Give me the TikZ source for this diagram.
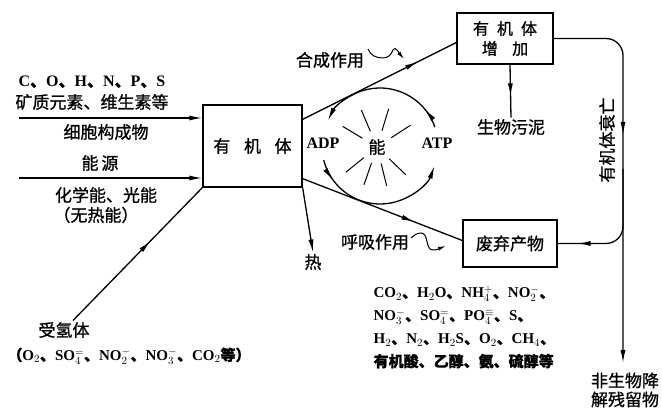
\documentclass[tikz,border=0pt]{standalone}
\usepackage{fontspec}
\setmainfont{Liberation Serif}
\newfontfamily\cjk{Noto Sans CJK SC}[FakeBold=1]
\usetikzlibrary{arrows.meta, decorations.markings}
\newcommand\dn{{\cjk 、}}

\begin{document}
\begin{tikzpicture}[
    x=1pt, y=1pt,
    line width=1.3pt,
    >={Latex[length=13pt, width=5pt]},
    box/.style={draw, rectangle, align=center, font=\cjk\fontsize{17}{22}\selectfont},
    txt/.style={align=center, inner sep=1pt, font=\cjk\fontsize{17}{19}\selectfont},
    latin/.style={inner sep=1pt, font=\bfseries\fontsize{16}{19}\selectfont},
    chem/.style={align=left, inner sep=0pt, font=\bfseries\fontsize{15}{23}\selectfont},
    midarrow/.style={postaction={decorate}, decoration={markings, mark=at position #1 with {\arrow{>}}}},
    midarrow/.default=0.6
]
    \useasboundingbox (0,0) rectangle (662,409);

    % Boxes
    \node[box, minimum width=99pt, minimum height=82pt] (org) at (252.5,263) {有\hspace{0.8em}机\hspace{0.8em}体};
    \node[box, minimum width=96pt, minimum height=51pt, font=\cjk\fontsize{16}{20}\selectfont] (grow) at (505,370.5) {有\hspace{0.5em}机\hspace{0.5em}体\\增\hspace{0.9em}加};
    \node[box, minimum width=94pt, minimum height=47pt] (waste) at (510,165.5) {废弃产物};

    % Inputs
    \node[latin] (elem) at (92,327) {C\dn O\dn H\dn N\dn P\dn S};
    \node[txt] (mineral) at (92,307) {矿质元素、维生素等};
    \node[txt] (cell) at (106,277) {细胞构成物};
    \node[txt] (source) at (100,246) {能\,源};
    \node[txt] (chemlight) at (106,214) {化学能、光能};
    \node[txt] (noheat) at (96,194) {（无热能）};
    \coordinate (in1) at (19,291);
    \coordinate (in2) at (19,231);
    \draw[->] (in1) -- (org.west |- in1);
    \draw[->] (in2) -- (org.west |- in2);

    % Hydrogen acceptor
    \node[txt] (acceptor) at (64,79) {受氢体};
    \node[latin, font=\bfseries\fontsize{15}{18}\selectfont] (accepts) at (129,53)
        {{\cjk （}O$_2$\dn SO$_4^{=}$\dn NO$_2^{-}$\dn NO$_3^{-}$\dn CO$_2${\cjk 等）}};
    \draw[midarrow=0.6] ([xshift=9pt]acceptor.north) -- (org.south west);

    % Heat
    \node[txt] (heat) at (313,147) {热};
    \draw[->] (org.south east) -- (heat.north);

    % Synthesis and respiration
    \draw[midarrow=0.75] ([yshift=-15pt]org.north east) -- ([yshift=-4pt]grow.west);
    \draw[midarrow=0.7] ([yshift=9pt]org.south east) -- ([yshift=3pt]waste.west);
    \node[txt] (synth) at (330,349) {合成作用};
    \node[txt] (resp) at (375,167) {呼吸作用};
    \draw[->, line width=1pt, >={Latex[length=8pt, width=4pt]}] (368,360) to[out=-70,in=180] (383,351) to[out=0,in=-110] (393,359) to[out=70,in=130] (404,350);
    \draw[->, line width=1pt, >={Latex[length=8pt, width=4pt]}] (411,171) to[out=40,in=180] (421,176) to[out=0,in=180] (433,159) to[out=0,in=200] (446,163);

    % Energy cycle
    \coordinate (cyc) at (380,263);
    \node[txt] (energy) at (377,262) {能};
    \node[latin] (adp) at (323,266) {ADP};
    \node[latin] (atp) at (437,266) {ATP};
    \draw[->, midarrow=0.15] (cyc) ++(19:58pt) arc[start angle=19, end angle=154, radius=58pt];
    \draw[->, midarrow=0.15] (cyc) ++(194:58pt) arc[start angle=194, end angle=340, radius=58pt];
    \foreach \a in {33,73,113,149,219,251,284,316}
        \draw[line width=1pt] (energy.center) ++(\a:17pt) -- ++(\a:23pt);

    % Sludge
    \node[txt] (sludge) at (511,282) {生物污泥};
    \draw[midarrow=0.6] ([xshift=5pt]grow.south) -- (sludge.north);

    % Decay
    \coordinate (bottom) at (623,46);
    \coordinate (fork) at (623,240);
    \draw[->, rounded corners=17pt, midarrow=0.41] (grow.east) -| (bottom);
    \draw[rounded corners=17pt, midarrow=0.85] (fork) |- (waste.east);
    \node[txt, rotate=90] (decay) at (607,269) {有机体衰亡};
    \node[txt] (residue) at (625,19) {非生物降\\解残留物};

    % Waste products
    \node[chem, anchor=west] (products) at (373,82) {CO$_2$\dn H$_2$O\dn NH$_4^{+}$\dn NO$_2^{-}$\dn\\
        NO$_3^{-}$\dn SO$_4^{=}$\dn PO$_4^{\equiv}$\dn S\dn\\
        H$_2$\dn N$_2$\dn H$_2$S\dn O$_2$\dn CH$_4$\dn\\
        {\cjk 有机酸、乙醇、氨、硫醇等}};

\end{tikzpicture}
\end{document}
